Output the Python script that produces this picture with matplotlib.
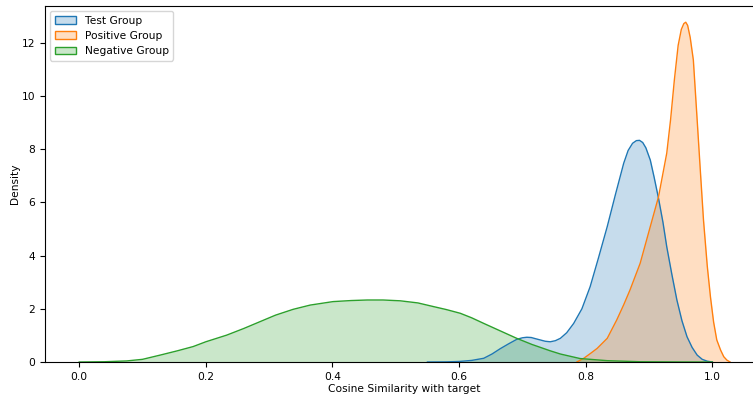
import matplotlib
matplotlib.use("Agg")
import matplotlib.pyplot as plt
from matplotlib.patches import Patch
import numpy as np

# density curves (x = cosine similarity, y = density)
test_x = [0.55, 0.58, 0.60, 0.62, 0.639, 0.652, 0.665, 0.678, 0.691, 0.700, 0.707, 0.714,
          0.72, 0.728, 0.736, 0.744, 0.752, 0.76, 0.77, 0.781, 0.794, 0.807, 0.82, 0.834,
          0.847, 0.86, 0.867, 0.874, 0.88, 0.885, 0.89, 0.895, 0.902, 0.908, 0.915, 0.922,
          0.928, 0.936, 0.944, 0.952, 0.96, 0.968, 0.976, 0.984, 0.992, 1.0]
test_y = [0.0, 0.005, 0.02, 0.06, 0.14, 0.30, 0.50, 0.68, 0.85, 0.91, 0.93, 0.92,
          0.88, 0.83, 0.78, 0.76, 0.80, 0.89, 1.10, 1.45, 2.0, 2.83, 3.9, 5.09,
          6.3, 7.47, 7.95, 8.22, 8.32, 8.33, 8.25, 8.05, 7.59, 6.95, 6.15, 5.25,
          4.33, 3.3, 2.33, 1.55, 0.95, 0.55, 0.26, 0.10, 0.03, 0.0]

pos_x = [0.786, 0.797, 0.808, 0.818, 0.834, 0.849, 0.86, 0.87, 0.886, 0.902, 0.915, 0.928,
         0.934, 0.94, 0.946, 0.951, 0.955, 0.958, 0.961, 0.965, 0.970, 0.976, 0.981,
         0.986, 0.992, 0.997, 1.002, 1.007, 1.013, 1.018, 1.023, 1.028]
pos_y = [0.0, 0.14, 0.33, 0.51, 0.89, 1.58, 2.15, 2.71, 3.71, 5.09, 6.21, 7.85,
         9.1, 10.6, 11.9, 12.5, 12.72, 12.77, 12.65, 12.2, 11.35, 9.1, 7.2,
         5.34, 3.6, 2.45, 1.5, 0.83, 0.45, 0.2, 0.07, 0.0]

neg_x = [0.0, 0.04, 0.075, 0.1, 0.128, 0.155, 0.18, 0.2, 0.233, 0.26, 0.286, 0.31, 0.338,
         0.365, 0.401, 0.43, 0.455, 0.48, 0.507, 0.535, 0.56, 0.58, 0.602, 0.62, 0.639,
         0.665, 0.691, 0.715, 0.744, 0.76, 0.791, 0.834, 0.886, 0.95, 1.0]
neg_y = [0.0, 0.01, 0.04, 0.10, 0.26, 0.42, 0.58, 0.76, 1.01, 1.26, 1.52, 1.76, 1.98,
         2.14, 2.27, 2.31, 2.33, 2.33, 2.30, 2.22, 2.08, 1.97, 1.83, 1.66, 1.45,
         1.17, 0.89, 0.66, 0.42, 0.30, 0.13, 0.05, 0.01, 0.002, 0.0]

groups = [
    ("Test Group", test_x, test_y, "#1f77b4"),
    ("Positive Group", pos_x, pos_y, "#ff7f0e"),
    ("Negative Group", neg_x, neg_y, "#2ca02c"),
]

plt.rcParams["font.size"] = 7.7

fig = plt.figure(figsize=(7.53, 3.99), dpi=100)
ax = fig.add_axes([45 / 753, 37 / 399, 718 / 753, 356 / 399])

handles = []
for label, xs, ys, color in groups:
    xs = np.asarray(xs)
    ys = np.asarray(ys)
    ax.fill_between(xs, ys, 0, color=color, alpha=0.25, linewidth=0)
    ax.plot(xs, ys, color=color, linewidth=1.0)
    handles.append(Patch(facecolor=matplotlib.colors.to_rgba(color, 0.25),
                         edgecolor=color, linewidth=1.0, label=label))

ax.set_xlim(-0.054, 1.08)
ax.set_ylim(0, 13.38)
ax.set_xticks([0.0, 0.2, 0.4, 0.6, 0.8, 1.0])
ax.set_yticks([0, 2, 4, 6, 8, 10, 12])
ax.set_xlabel("Cosine Similarity with target", labelpad=2)
ax.set_ylabel("Density", labelpad=1)
ax.legend(handles=handles, loc="upper left")

fig.savefig("out.png", dpi=100)
